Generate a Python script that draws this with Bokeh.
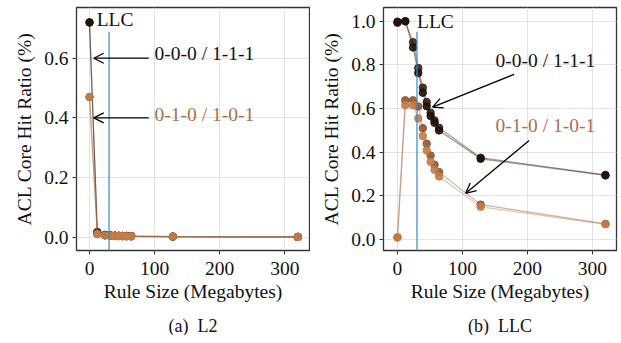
from bokeh.plotting import figure
from bokeh.layouts import row
from bokeh.models import (Range1d, FixedTicker, PrintfTickFormatter, Label, Arrow,
                          OpenHead, Title)
from bokeh.embed import file_html
from bokeh.resources import INLINE

# ---------------- data ----------------
rule_size = [0, 12, 24, 32, 39, 45, 51, 57, 64, 128, 320]
llc_size = 30

series_names = ["0-0-0", "1-1-1", "0-1-0", "1-0-1"]
series_colors = ["#3a2417", "#1e110a", "#8c5434", "#c47c48"]

l2_000 = [0.72, 0.017, 0.008, 0.006, 0.005, 0.005, 0.004, 0.004, 0.004, 0.002, 0.001]
l2_111 = [0.72, 0.015, 0.007, 0.006, 0.005, 0.004, 0.004, 0.004, 0.003, 0.002, 0.001]
l2_010 = [0.47, 0.012, 0.006, 0.005, 0.005, 0.004, 0.004, 0.003, 0.003, 0.002, 0.001]
l2_101 = [0.47, 0.010, 0.006, 0.005, 0.004, 0.004, 0.003, 0.003, 0.003, 0.002, 0.001]

llc_000 = [0.993, 1.0, 0.904, 0.786, 0.696, 0.630, 0.581, 0.546, 0.512, 0.375, 0.296]
llc_111 = [0.998, 1.0, 0.880, 0.763, 0.673, 0.611, 0.566, 0.535, 0.500, 0.370, 0.294]
llc_010 = [0.010, 0.638, 0.638, 0.610, 0.510, 0.439, 0.385, 0.343, 0.309, 0.160, 0.072]
llc_101 = [0.010, 0.615, 0.615, 0.555, 0.474, 0.408, 0.356, 0.320, 0.289, 0.150, 0.070]

FONT = "Liberation Serif"
FS = "19.5px"
DARK_TXT = "#111111"
COPPER_TXT = "#a8704c"


def make_fig(width, border_left, border_right, xr, yr, yticks, series, caption):
    p = figure(width=width, height=335, output_backend="svg", toolbar_location=None,
               title_location=None,
               x_range=Range1d(*xr), y_range=Range1d(*yr),
               min_border_left=border_left, min_border_right=border_right,
               min_border_top=7, min_border_bottom=0)
    p.background_fill_color = "white"
    p.border_fill_color = "white"
    p.outline_line_color = "#333333"
    p.outline_line_width = 1.3
    for ax in (p.xaxis[0], p.yaxis[0]):
        ax.axis_line_color = None
        ax.major_tick_line_color = "#333333"
        ax.major_tick_out = 4
        ax.major_tick_in = 0
        ax.minor_tick_line_color = None
        ax.major_label_text_font = FONT
        ax.major_label_text_font_size = FS
        ax.major_label_text_color = DARK_TXT
        ax.axis_label_text_font = FONT
        ax.axis_label_text_font_size = FS
        ax.axis_label_text_font_style = "normal"
        ax.axis_label_text_color = DARK_TXT
    p.xaxis.major_label_standoff = 7
    p.yaxis.major_label_standoff = 4
    p.xaxis.ticker = FixedTicker(ticks=[0, 100, 200, 300])
    p.xaxis.formatter = PrintfTickFormatter(format="%d")
    p.yaxis.ticker = FixedTicker(ticks=yticks)
    p.yaxis.formatter = PrintfTickFormatter(format="%.1f")
    p.xaxis.axis_label = "Rule Size (Megabytes)"
    p.yaxis.axis_label = "ACL Core Hit Ratio (%)"
    p.xaxis.axis_label_standoff = 3
    p.yaxis.axis_label_standoff = 6
    p.grid.grid_line_color = "#e3e3e3"
    p.grid.grid_line_width = 1

    for vals, col in zip(series, series_colors):
        p.line(rule_size, vals, line_color=col, line_alpha=0.45, line_width=1.2)
        p.scatter(rule_size, vals, size=7.5, fill_color=col, line_color=col,
                  fill_alpha=0.9, line_alpha=0.9)

    # LLC marker line (to 90% of axes height)
    y0, y1 = yr
    p.segment(x0=[llc_size], y0=[y0], x1=[llc_size], y1=[y0 + 0.9 * (y1 - y0)],
              line_color="#3a88c4", line_width=1.2)

    spacer = Title(text=" ", text_font_size="1px", standoff=6)
    p.add_layout(spacer, "below")
    cap = Title(text=caption, align="center", text_font=FONT, text_font_size="18px",
                text_font_style="normal", text_color=DARK_TXT, offset=0, standoff=0)
    p.add_layout(cap, "below")
    return p


# ---------------- (a) L2 ----------------
pa = make_fig(310, 76, 1, (-20, 338), (-0.0446, 0.77), [0.0, 0.2, 0.4, 0.6],
              [l2_000, l2_111, l2_010, l2_101], "(a)\u00a0 L2")
pa.add_layout(Label(x=11, y=0.73, text="LLC", text_font=FONT, text_font_size=FS,
                    text_color=DARK_TXT, text_baseline="middle", text_align="left"))
pa.add_layout(Label(x=100, y=0.615, text="0-0-0 / 1-1-1", text_font=FONT, text_font_size=FS,
                    text_color=DARK_TXT, text_baseline="middle"))
pa.add_layout(Label(x=100, y=0.412, text="0-1-0 / 1-0-1", text_font=FONT, text_font_size=FS,
                    text_color=COPPER_TXT, text_baseline="middle"))
pa.add_layout(Arrow(x_start=91, y_start=0.6, x_end=6.5, y_end=0.6, line_color="black",
                    line_width=1.3, end=OpenHead(size=10, line_width=1.3, line_color="black")))
pa.add_layout(Arrow(x_start=91, y_start=0.4, x_end=6.5, y_end=0.4, line_color="black",
                    line_width=1.3, end=OpenHead(size=10, line_width=1.3, line_color="black")))

# ---------------- (b) LLC ----------------
pb = make_fig(311, 73, 5, (-21.5, 337), (-0.05, 1.063), [0.0, 0.2, 0.4, 0.6, 0.8, 1.0],
              [llc_000, llc_111, llc_010, llc_101], "(b)\u00a0 LLC")
pb.add_layout(Label(x=30, y=1.0, text="LLC", text_font=FONT, text_font_size=FS,
                    text_color=DARK_TXT, text_baseline="middle"))
pb.add_layout(Label(x=151, y=0.82, text="0-0-0 / 1-1-1", text_font=FONT, text_font_size=FS,
                    text_color=DARK_TXT, text_baseline="middle"))
pb.add_layout(Label(x=151, y=0.523, text="0-1-0 / 1-0-1", text_font=FONT, text_font_size=FS,
                    text_color=COPPER_TXT, text_baseline="middle"))
pb.add_layout(Arrow(x_start=179.5, y_start=0.757, x_end=54, y_end=0.607, line_color="black",
                    line_width=1.3, end=OpenHead(size=10, line_width=1.3, line_color="black")))
pb.add_layout(Arrow(x_start=202.5, y_start=0.454, x_end=105, y_end=0.212, line_color="black",
                    line_width=1.3, end=OpenHead(size=10, line_width=1.3, line_color="black")))

layout = row(pa, pb)
open("out.html", "w").write(file_html(layout, INLINE))
